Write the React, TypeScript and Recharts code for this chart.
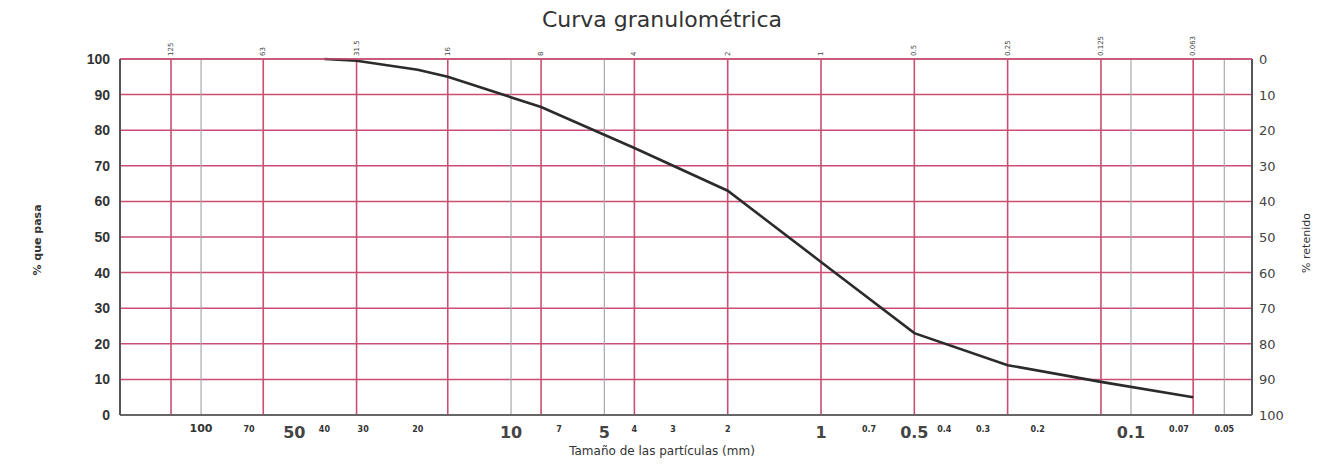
import React from "react";
import { ComposedChart, Line, XAxis, YAxis, CartesianGrid, ReferenceLine } from "recharts";

// sieve sizes (mm) and % passing
const curveSizes = [40, 31.5, 20, 16, 8, 4, 2, 1, 0.5, 0.25, 0.125, 0.063];
const curvePasa = [100, 99.5, 97, 95, 86.5, 75, 63, 43, 23, 14, 9.3, 5];

const sieveTicks = [125, 63, 31.5, 16, 8, 4, 2, 1, 0.5, 0.25, 0.125, 0.063];
const grayLines = [100, 10, 5, 0.1, 0.05];
const bottomTicks = [100, 70, 50, 40, 30, 20, 10, 7, 5, 4, 3, 2, 1, 0.7, 0.5, 0.4, 0.3, 0.2, 0.1, 0.07, 0.05];
const bigTicks = [50, 10, 5, 1, 0.5, 0.1];
const yTicks = [0, 10, 20, 30, 40, 50, 60, 70, 80, 90, 100];

const data = curveSizes.map((s, i) => ({ size: s, pasa: curvePasa[i] }));

const RED = "#c94f72";
const FONT = "'DejaVu Sans', sans-serif";
const DOMAIN: [number, number] = [0.0407, 182.6];

const BottomTick = ({ x, payload }: any) => {
  const v = payload.value;
  const big = bigTicks.includes(v);
  const size = big ? 16 : v === 100 ? 11 : 8;
  return (
    <text x={x} y={big ? 438 : 432} textAnchor="middle" fontFamily={FONT} fontWeight="bold"
      fontSize={size} fill={big ? "#444" : "#333"}>
      {String(v)}
    </text>
  );
};

const TopTick = ({ x, payload }: any) => (
  <text x={0} y={0} transform={`translate(${x + 2}, 56) rotate(-90)`} fontFamily={FONT}
    fontSize={7} fill="#444">
    {String(payload.value)}
  </text>
);

// left: % que pasa, right: % retenido (100 - pasa)
const SideTick = ({ y, payload }: any) => (
  <g>
    <text x={110} y={y + 5} textAnchor="end" fontFamily="'Liberation Sans', sans-serif"
      fontWeight="bold" fontSize={14} fill="#333">
      {payload.value}
    </text>
    <text x={1259} y={y + 5} textAnchor="start" fontFamily={FONT} fontSize={13} fill="#444">
      {100 - payload.value}
    </text>
  </g>
);

export default function App() {
  return (
    <div style={{ position: "absolute", left: 0, top: 0, width: 1324, height: 464, background: "#fff" }}>
      <div style={{ position: "absolute", left: 0, width: 1324, top: 7, textAlign: "center", fontFamily: FONT, fontSize: 22, color: "#333" }}>
        Curva granulométrica
      </div>
      <div style={{ position: "absolute", left: 0, width: 1324, top: 444, textAlign: "center", fontFamily: FONT, fontSize: 12, color: "#333" }}>
        Tamaño de las partículas (mm)
      </div>
      <div style={{ position: "absolute", left: 37, top: 240, transform: "translate(-50%, -50%) rotate(-90deg)", whiteSpace: "nowrap", fontFamily: FONT, fontWeight: "bold", fontSize: 11, color: "#333" }}>
        % que pasa
      </div>
      <div style={{ position: "absolute", left: 1306, top: 243, transform: "translate(-50%, -50%) rotate(-90deg)", whiteSpace: "nowrap", fontFamily: FONT, fontSize: 11, color: "#333" }}>
        % retenido
      </div>
      <ComposedChart width={1324} height={464} data={data} margin={{ top: 39, right: 72, bottom: 9, left: 0 }}
        style={{ position: "absolute", left: 0, top: 0 }}>
        <CartesianGrid vertical={false} stroke={RED} strokeWidth={1.5} yAxisId="left" xAxisId="bottom" />
        {grayLines.map((v) => (
          <ReferenceLine key={"g" + v} x={v} xAxisId="bottom" yAxisId="left" stroke="#a9a9a9" strokeWidth={1.2} />
        ))}
        {sieveTicks.map((v) => (
          <ReferenceLine key={"r" + v} x={v} xAxisId="bottom" yAxisId="left" stroke={RED} strokeWidth={1.6} />
        ))}
        <ReferenceLine x={DOMAIN[0]} xAxisId="bottom" yAxisId="left" stroke="#555" strokeWidth={2} ifOverflow="extendDomain" />
        <XAxis xAxisId="bottom" dataKey="size" type="number" scale="log" domain={DOMAIN} reversed allowDataOverflow
          ticks={bottomTicks} interval={0} height={40} axisLine={{ stroke: "#666", strokeWidth: 2 }} tickLine={false}
          tick={<BottomTick />} />
        <XAxis xAxisId="top" orientation="top" dataKey="size" type="number" scale="log" domain={DOMAIN} reversed allowDataOverflow
          ticks={sieveTicks} interval={0} height={20} axisLine={{ stroke: RED, strokeWidth: 1.5 }} tickLine={false}
          tick={<TopTick />} />
        <YAxis yAxisId="left" type="number" domain={[0, 100]} ticks={yTicks} interval={0} width={120}
          axisLine={{ stroke: "#555", strokeWidth: 2 }} tickLine={false} tick={<SideTick />} />
        <Line xAxisId="bottom" yAxisId="left" type="linear" dataKey="pasa" stroke="#2b2b2b" strokeWidth={2.6}
          dot={false} isAnimationActive={false} />
      </ComposedChart>
    </div>
  );
}
